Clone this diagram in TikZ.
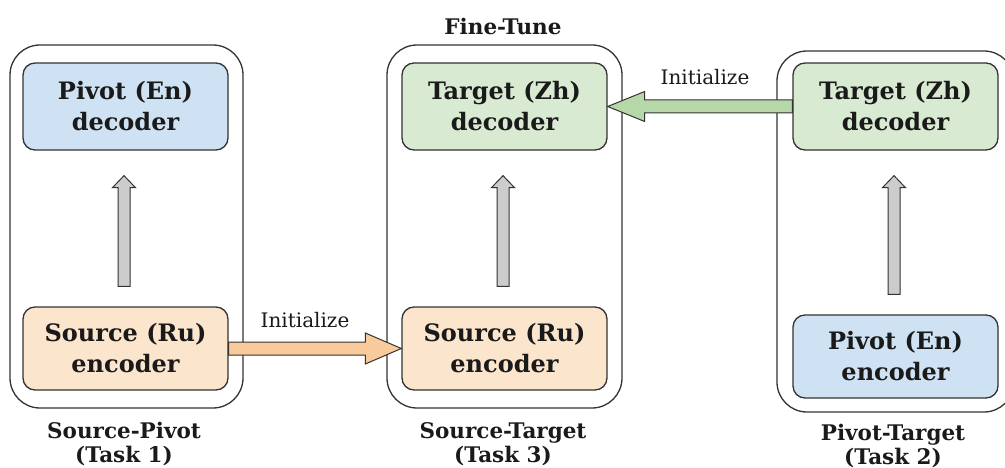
\documentclass[tikz,border=0pt]{standalone}
\usepackage{fontspec}
\setmainfont{DejaVu Serif}
\usetikzlibrary{calc}

\definecolor{pivotblue}{HTML}{CFE2F3}
\definecolor{sourceorange}{HTML}{FCE5CD}
\definecolor{targetgreen}{HTML}{D9EAD3}
\definecolor{arroworange}{HTML}{F9CB9C}
\definecolor{arrowgreen}{HTML}{B6D7A8}
\definecolor{arrowgray}{HTML}{CCCCCC}
\definecolor{edge}{HTML}{333333}
\definecolor{ink}{HTML}{1A1A1A}

\tikzset{
  taskframe/.style={draw=edge, line width=1.3pt, rounded corners=30pt, fill=none},
  module/.style={draw=edge, line width=1.3pt, rounded corners=12pt,
    minimum width=205pt, align=center, text=ink,
    font=\fontsize{24}{31}\selectfont\bfseries},
  caption/.style={align=center, text=ink,
    font=\fontsize{21.5}{24}\selectfont\bfseries},
  labeltext/.style={text=ink, font=\fontsize{20}{24}\selectfont},
  blockarrow/.style={draw=black!80, line width=1pt, line join=miter},
}

\begin{document}
\begin{tikzpicture}[x=1pt, y=-1pt]
  \clip (0,0) rectangle (1005,468);
  \useasboundingbox (0,0) rectangle (1005,468);

  % task frames
  \draw[taskframe] (10,45) rectangle (243,408);
  \draw[taskframe] (387,45) rectangle (622,408);
  \draw[taskframe] (777,51) rectangle (1014,412);

  % modules of task 1
  \node[module, fill=pivotblue, minimum height=87pt] (lt) at (125.5,106.5) {Pivot (En)\\decoder};
  \node[module, fill=sourceorange, minimum height=83pt] (lb) at (125.5,348.5) {Source (Ru)\\encoder};
  % modules of task 3
  \node[module, fill=targetgreen, minimum height=87pt] (mt) at (504.5,106.5) {Target (Zh)\\decoder};
  \node[module, fill=sourceorange, minimum height=83pt] (mb) at (504.5,348.5) {Source (Ru)\\encoder};
  % modules of task 2
  \node[module, fill=targetgreen, minimum height=87pt] (rt) at (895.5,106.5) {Target (Zh)\\decoder};
  \node[module, fill=pivotblue, minimum height=83pt] (rb) at (895.5,356.5) {Pivot (En)\\encoder};

  % encoder-to-decoder flow inside each task
  \foreach \lo/\hi in {lb/lt, mb/mt, rb/rt}{
    \coordinate (s) at ($(\lo.north)+(-1.5,-20)$);
    \coordinate (t) at ($(\hi.south)+(-1.5,25)$);
    \draw[blockarrow, fill=arrowgray]
      ($(s)+(-6,0)$) -- ($(t)+(-6,12)$) -- ($(t)+(-11.5,12)$) -- (t)
      -- ($(t)+(11.5,12)$) -- ($(t)+(6,12)$) -- ($(s)+(6,0)$) -- cycle;
  }

  % encoder initialization: task 1 -> task 3
  \draw[blockarrow, fill=arroworange]
    ($(lb.east)+(0,-6.5)$) -- ($(mb.west)+(-36,-6.5)$) -- ($(mb.west)+(-36,-15.5)$)
    -- (mb.west) -- ($(mb.west)+(-36,15.5)$) -- ($(mb.west)+(-36,6.5)$)
    -- ($(lb.east)+(0,6.5)$) -- cycle;
  \node[labeltext] (initA) at (305,320) {Initialize};

  % decoder initialization: task 2 -> task 3
  \draw[blockarrow, fill=arrowgreen]
    ($(rt.west)+(0,-6.5)$) -- ($(mt.east)+(37,-6.5)$) -- ($(mt.east)+(37,-15)$)
    -- (mt.east) -- ($(mt.east)+(37,15)$) -- ($(mt.east)+(37,6.5)$)
    -- ($(rt.west)+(0,6.5)$) -- cycle;
  \node[labeltext] (initB) at (705,77) {Initialize};

  % titles and captions
  \node[caption] (ft) at (503,26) {Fine-Tune};
  \node[caption] (c1) at (124,444) {Source-Pivot\\(Task 1)};
  \node[caption] (c3) at (503,444) {Source-Target\\(Task 3)};
  \node[caption] (c2) at (893,446) {Pivot-Target\\(Task 2)};
\end{tikzpicture}
\end{document}
